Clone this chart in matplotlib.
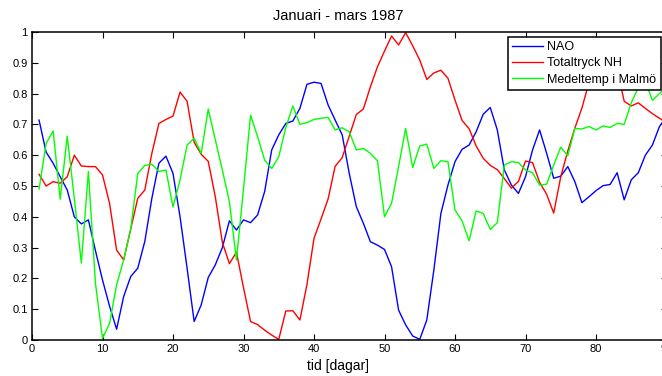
import matplotlib
matplotlib.use("Agg")
import matplotlib.pyplot as plt
import numpy as np

plt.rcParams['font.family'] = ['Liberation Sans', 'DejaVu Sans']

days = list(range(1, 91))

nao = [0.714, 0.61, 0.574, 0.53, 0.487, 0.40, 0.377, 0.39, 0.29, 0.195,
       0.11, 0.035, 0.141, 0.206, 0.233, 0.32, 0.46, 0.574, 0.597, 0.541,
       0.40, 0.233, 0.06, 0.114, 0.203, 0.244, 0.30, 0.387, 0.357, 0.39,
       0.381, 0.406, 0.482, 0.617, 0.666, 0.703, 0.711, 0.752, 0.83, 0.837,
       0.833, 0.763, 0.714, 0.666, 0.541, 0.433, 0.379, 0.319, 0.308, 0.294,
       0.238, 0.097, 0.049, 0.013, 0.002, 0.065, 0.227, 0.411, 0.503, 0.579,
       0.619, 0.633, 0.676, 0.733, 0.755, 0.682, 0.552, 0.503, 0.476, 0.53,
       0.617, 0.682, 0.606, 0.525, 0.532, 0.563, 0.514, 0.446, 0.465, 0.485,
       0.501, 0.505, 0.543, 0.455, 0.52, 0.543, 0.60, 0.633, 0.693, 0.725]

totaltryck = [0.538, 0.50, 0.514, 0.509, 0.53, 0.60, 0.565, 0.563, 0.563, 0.536,
              0.444, 0.292, 0.26, 0.36, 0.46, 0.487, 0.606, 0.703, 0.716, 0.727,
              0.805, 0.775, 0.642, 0.603, 0.58, 0.465, 0.317, 0.248, 0.285, 0.17,
              0.06, 0.05, 0.032, 0.016, 0.002, 0.094, 0.095, 0.065, 0.18, 0.33,
              0.393, 0.458, 0.564, 0.592, 0.662, 0.732, 0.75, 0.822, 0.887, 0.938,
              0.987, 0.958, 0.998, 0.955, 0.909, 0.846, 0.867, 0.876, 0.85, 0.779,
              0.713, 0.686, 0.63, 0.59, 0.567, 0.553, 0.524, 0.493, 0.515, 0.581,
              0.576, 0.512, 0.473, 0.412, 0.53, 0.614, 0.688, 0.753, 0.836, 0.91,
              0.95, 0.94, 0.88, 0.775, 0.76, 0.77, 0.752, 0.735, 0.72, 0.705]

medeltemp = [0.49, 0.638, 0.679, 0.457, 0.662, 0.46, 0.25, 0.547, 0.184, 0.005,
             0.054, 0.179, 0.26, 0.36, 0.541, 0.567, 0.571, 0.547, 0.552, 0.432,
             0.52, 0.633, 0.655, 0.606, 0.75, 0.65, 0.552, 0.449, 0.26, 0.49,
             0.73, 0.66, 0.584, 0.557, 0.595, 0.69, 0.76, 0.70, 0.706, 0.716,
             0.72, 0.723, 0.682, 0.689, 0.676, 0.617, 0.622, 0.606, 0.582, 0.40,
             0.444, 0.563, 0.687, 0.56, 0.63, 0.636, 0.557, 0.582, 0.579, 0.422,
             0.387, 0.322, 0.419, 0.411, 0.359, 0.381, 0.568, 0.579, 0.576, 0.552,
             0.543, 0.503, 0.506, 0.568, 0.626, 0.598, 0.687, 0.685, 0.693, 0.682,
             0.695, 0.69, 0.703, 0.70, 0.77, 0.82, 0.84, 0.778, 0.80, 0.82]

labels = ["NAO", "Totaltryck NH", "Medeltemp i Malmö"]
colors = ["#0000ff", "#ff0000", "#00ff00"]
title = "Januari - mars 1987"
xlabel = "tid [dagar]"
xticks = list(range(0, 91, 10))
yticks = [0, 0.1, 0.2, 0.3, 0.4, 0.5, 0.6, 0.7, 0.8, 0.9, 1]
ytick_labels = ["0", "0.1", "0.2", "0.3", "0.4", "0.5", "0.6", "0.7", "0.8", "0.9", "1"]

W, H = 662, 376
fig = plt.figure(figsize=(W / 100, H / 100), dpi=100)
ax = fig.add_axes([32 / W, (H - 340) / H, 634.5 / W, 308 / H])

for series, lab, col in zip([nao, totaltryck, medeltemp], labels, colors):
    ax.plot(days, series, color=col, lw=1.0, label=lab)

ax.set_xlim(0, 90)
ax.set_ylim(0, 1)
ax.set_xticks(xticks)
ax.set_xticklabels([str(t) for t in xticks])
ax.set_yticks(yticks)
ax.set_yticklabels(ytick_labels)
ax.tick_params(direction='in', length=4, width=0.8, top=True, right=True,
               labelsize=8, pad=3, colors='black')
for s in ax.spines.values():
    s.set_linewidth(1.1)
    s.set_color('black')

fig.text(338 / W, 1 - 16 / H, title, ha='center', va='center', fontsize=10.5)
fig.text(338 / W, 1 - 366 / H, xlabel, ha='center', va='center', fontsize=10)

leg = ax.legend(loc='upper right', bbox_to_anchor=(660.5 / W, 1 - 36.7 / H),
                bbox_transform=fig.transFigure, borderaxespad=0,
                fontsize=9, frameon=True, fancybox=False, framealpha=1,
                handlelength=2.5, handletextpad=0.3, labelspacing=0.35,
                borderpad=0.35)
leg.get_frame().set_edgecolor('black')
leg.get_frame().set_linewidth(1.1)

fig.savefig("out.png", dpi=100)
